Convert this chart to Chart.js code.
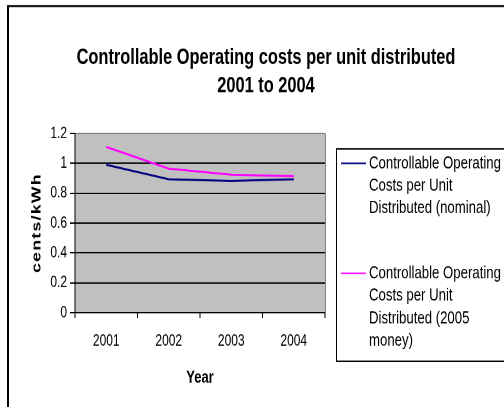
<!DOCTYPE html>
<html>
<head>
<meta charset="utf-8">
<script src="https://cdn.jsdelivr.net/npm/chart.js@4/dist/chart.umd.min.js"></script>
<style>
  html, body { margin: 0; padding: 0; background: #fff; }
  /* the source picture is stretched tall, so draw at 302 high and show it at 407 */
  #myChart { display: block; width: 504px; height: 407px; }
</style>
</head>
<body>
<canvas id="myChart" width="504" height="302" style="width:504px;height:407px"></canvas>
<script>
// data
var years = ['2001', '2002', '2003', '2004'];
var nominal = [0.99, 0.893, 0.882, 0.893];
var money2005 = [1.11, 0.964, 0.924, 0.913];
var yTicks = [0, 0.2, 0.4, 0.6, 0.8, 1, 1.2];

var titleLines = ['Controllable Operating costs per unit distributed', '2001 to 2004'];
var seriesNames = [
    'Controllable Operating Costs per Unit Distributed (nominal)',
    'Controllable Operating Costs per Unit Distributed (2005 money)'
];
var xTitle = 'Year';
var yTitle = 'cents/kWh';

var FONT = "'Liberation Sans', Arial, sans-serif";

// grey plot area + frame round the whole chart
var backdrop = {
    id: 'backdrop',
    beforeDraw: function (chart) {
        var ctx = chart.ctx, a = chart.chartArea;
        ctx.save();
        ctx.fillStyle = '#fff';
        ctx.fillRect(0, 0, chart.width, chart.height);
        ctx.fillStyle = '#c0c0c0';
        ctx.fillRect(a.left, a.top, a.right - a.left, a.bottom - a.top);
        ctx.strokeStyle = '#000';
        ctx.lineWidth = 2;
        ctx.beginPath();
        ctx.moveTo(8, chart.height);
        ctx.lineTo(8, 4.5);
        ctx.stroke();
        ctx.lineWidth = 1.5;
        ctx.beginPath();
        ctx.moveTo(7, 4.5);
        ctx.lineTo(chart.width, 4.5);
        ctx.stroke();
        ctx.restore();
    },
    beforeDatasetsDraw: function (chart) {
        var ctx = chart.ctx, a = chart.chartArea;
        ctx.save();
        ctx.strokeStyle = '#808080';
        ctx.lineWidth = 1;
        ctx.beginPath();
        ctx.moveTo(a.right + 0.5, a.top);
        ctx.lineTo(a.right + 0.5, a.bottom);
        ctx.stroke();
        ctx.restore();
    }
};

// title and rotated y title
var labels = {
    id: 'labels',
    afterDraw: function (chart) {
        var ctx = chart.ctx, a = chart.chartArea;
        ctx.save();
        ctx.fillStyle = '#000';
        ctx.textAlign = 'center';
        ctx.textBaseline = 'alphabetic';
        ctx.font = 'bold 16.4px ' + FONT;
        titleLines.forEach(function (t, i) {
            ctx.fillText(t, 266, 47.5 + i * 21);
        });

        ctx.translate(37, (a.top + a.bottom) / 2);
        ctx.rotate(-Math.PI / 2);
        ctx.font = 'bold 13px ' + FONT;
        ctx.letterSpacing = '1px';
        ctx.textBaseline = 'middle';
        ctx.fillText(yTitle, 0, 0);
        ctx.restore();
    }
};

function wrap(ctx, text, maxW) {
    var words = text.split(' '), lines = [], cur = '';
    words.forEach(function (w) {
        var t = cur ? cur + ' ' + w : w;
        if (ctx.measureText(t).width > maxW && cur) {
            lines.push(cur);
            cur = w;
        } else {
            cur = t;
        }
    });
    if (cur) lines.push(cur);
    return lines;
}

// legend box on the right, like the old excel one
var sideLegend = {
    id: 'sideLegend',
    afterDraw: function (chart) {
        var ctx = chart.ctx;
        var boxL = 336, boxT = 110.5, boxB = 268;
        ctx.save();
        ctx.strokeStyle = '#000';
        ctx.lineWidth = 1;
        ctx.strokeRect(boxL + 0.5, boxT, chart.width, boxB - boxT);
        ctx.font = '13.2px ' + FONT;
        ctx.textBaseline = 'middle';
        ctx.fillStyle = '#000';
        var starts = [121.2, 202.8];
        chart.data.datasets.forEach(function (ds, i) {
            var y = starts[i];
            ctx.strokeStyle = ds.borderColor;
            ctx.lineWidth = 1.2;
            ctx.beginPath();
            ctx.moveTo(341, y);
            ctx.lineTo(366, y);
            ctx.stroke();
            var lines = wrap(ctx, ds.label, 145);
            lines.forEach(function (ln, j) {
                ctx.fillText(ln, 369, y + j * 16.7);
            });
        });
        ctx.restore();
    }
};

var ctx = document.getElementById('myChart').getContext('2d');
var chart = new Chart(ctx, {
    type: 'line',
    data: {
        labels: years,
        datasets: [{
            label: seriesNames[0],
            data: nominal,
            borderColor: '#000080',
            backgroundColor: '#000080',
            borderWidth: 1.5,
            pointRadius: 0,
            tension: 0
        }, {
            label: seriesNames[1],
            data: money2005,
            borderColor: '#ff00ff',
            backgroundColor: '#ff00ff',
            borderWidth: 1.5,
            pointRadius: 0,
            tension: 0
        }]
    },
    options: {
        responsive: false,
        animation: false,
        devicePixelRatio: 2,
        layout: { padding: { left: 12, right: 179, top: 99, bottom: 10 } },
        plugins: {
            legend: { display: false },
            tooltip: { enabled: false },
            title: { display: false }
        },
        scales: {
            x: {
                offset: true,
                grid: {
                    offset: true,
                    drawOnChartArea: false,
                    drawTicks: true,
                    tickLength: 4,
                    tickColor: '#000'
                },
                border: { color: '#000', width: 1 },
                ticks: { color: '#000', font: { family: FONT, size: 12 }, padding: 10, maxRotation: 0 },
                title: {
                    display: true,
                    text: xTitle,
                    color: '#000',
                    font: { family: FONT, size: 13, weight: 'bold' },
                    padding: { top: 0, bottom: 4 }
                },
                afterFit: function (s) { s.height = 60; }
            },
            y: {
                min: 0,
                max: 1.2,
                afterBuildTicks: function (s) {
                    s.ticks = yTicks.map(function (v) { return { value: v }; });
                },
                grid: {
                    color: function (c) { return c.tick && c.tick.value === 1.2 ? '#808080' : '#000'; },
                    tickColor: '#000',
                    tickLength: 5
                },
                border: { color: '#000', width: 1 },
                ticks: {
                    color: '#000',
                    font: { family: FONT, size: 12 },
                    padding: 3,
                    callback: function (v) { return String(v); }
                },
                afterFit: function (s) { s.width = 63; }
            }
        }
    },
    plugins: [backdrop, labels, sideLegend]
});
</script>
</body>
</html>
